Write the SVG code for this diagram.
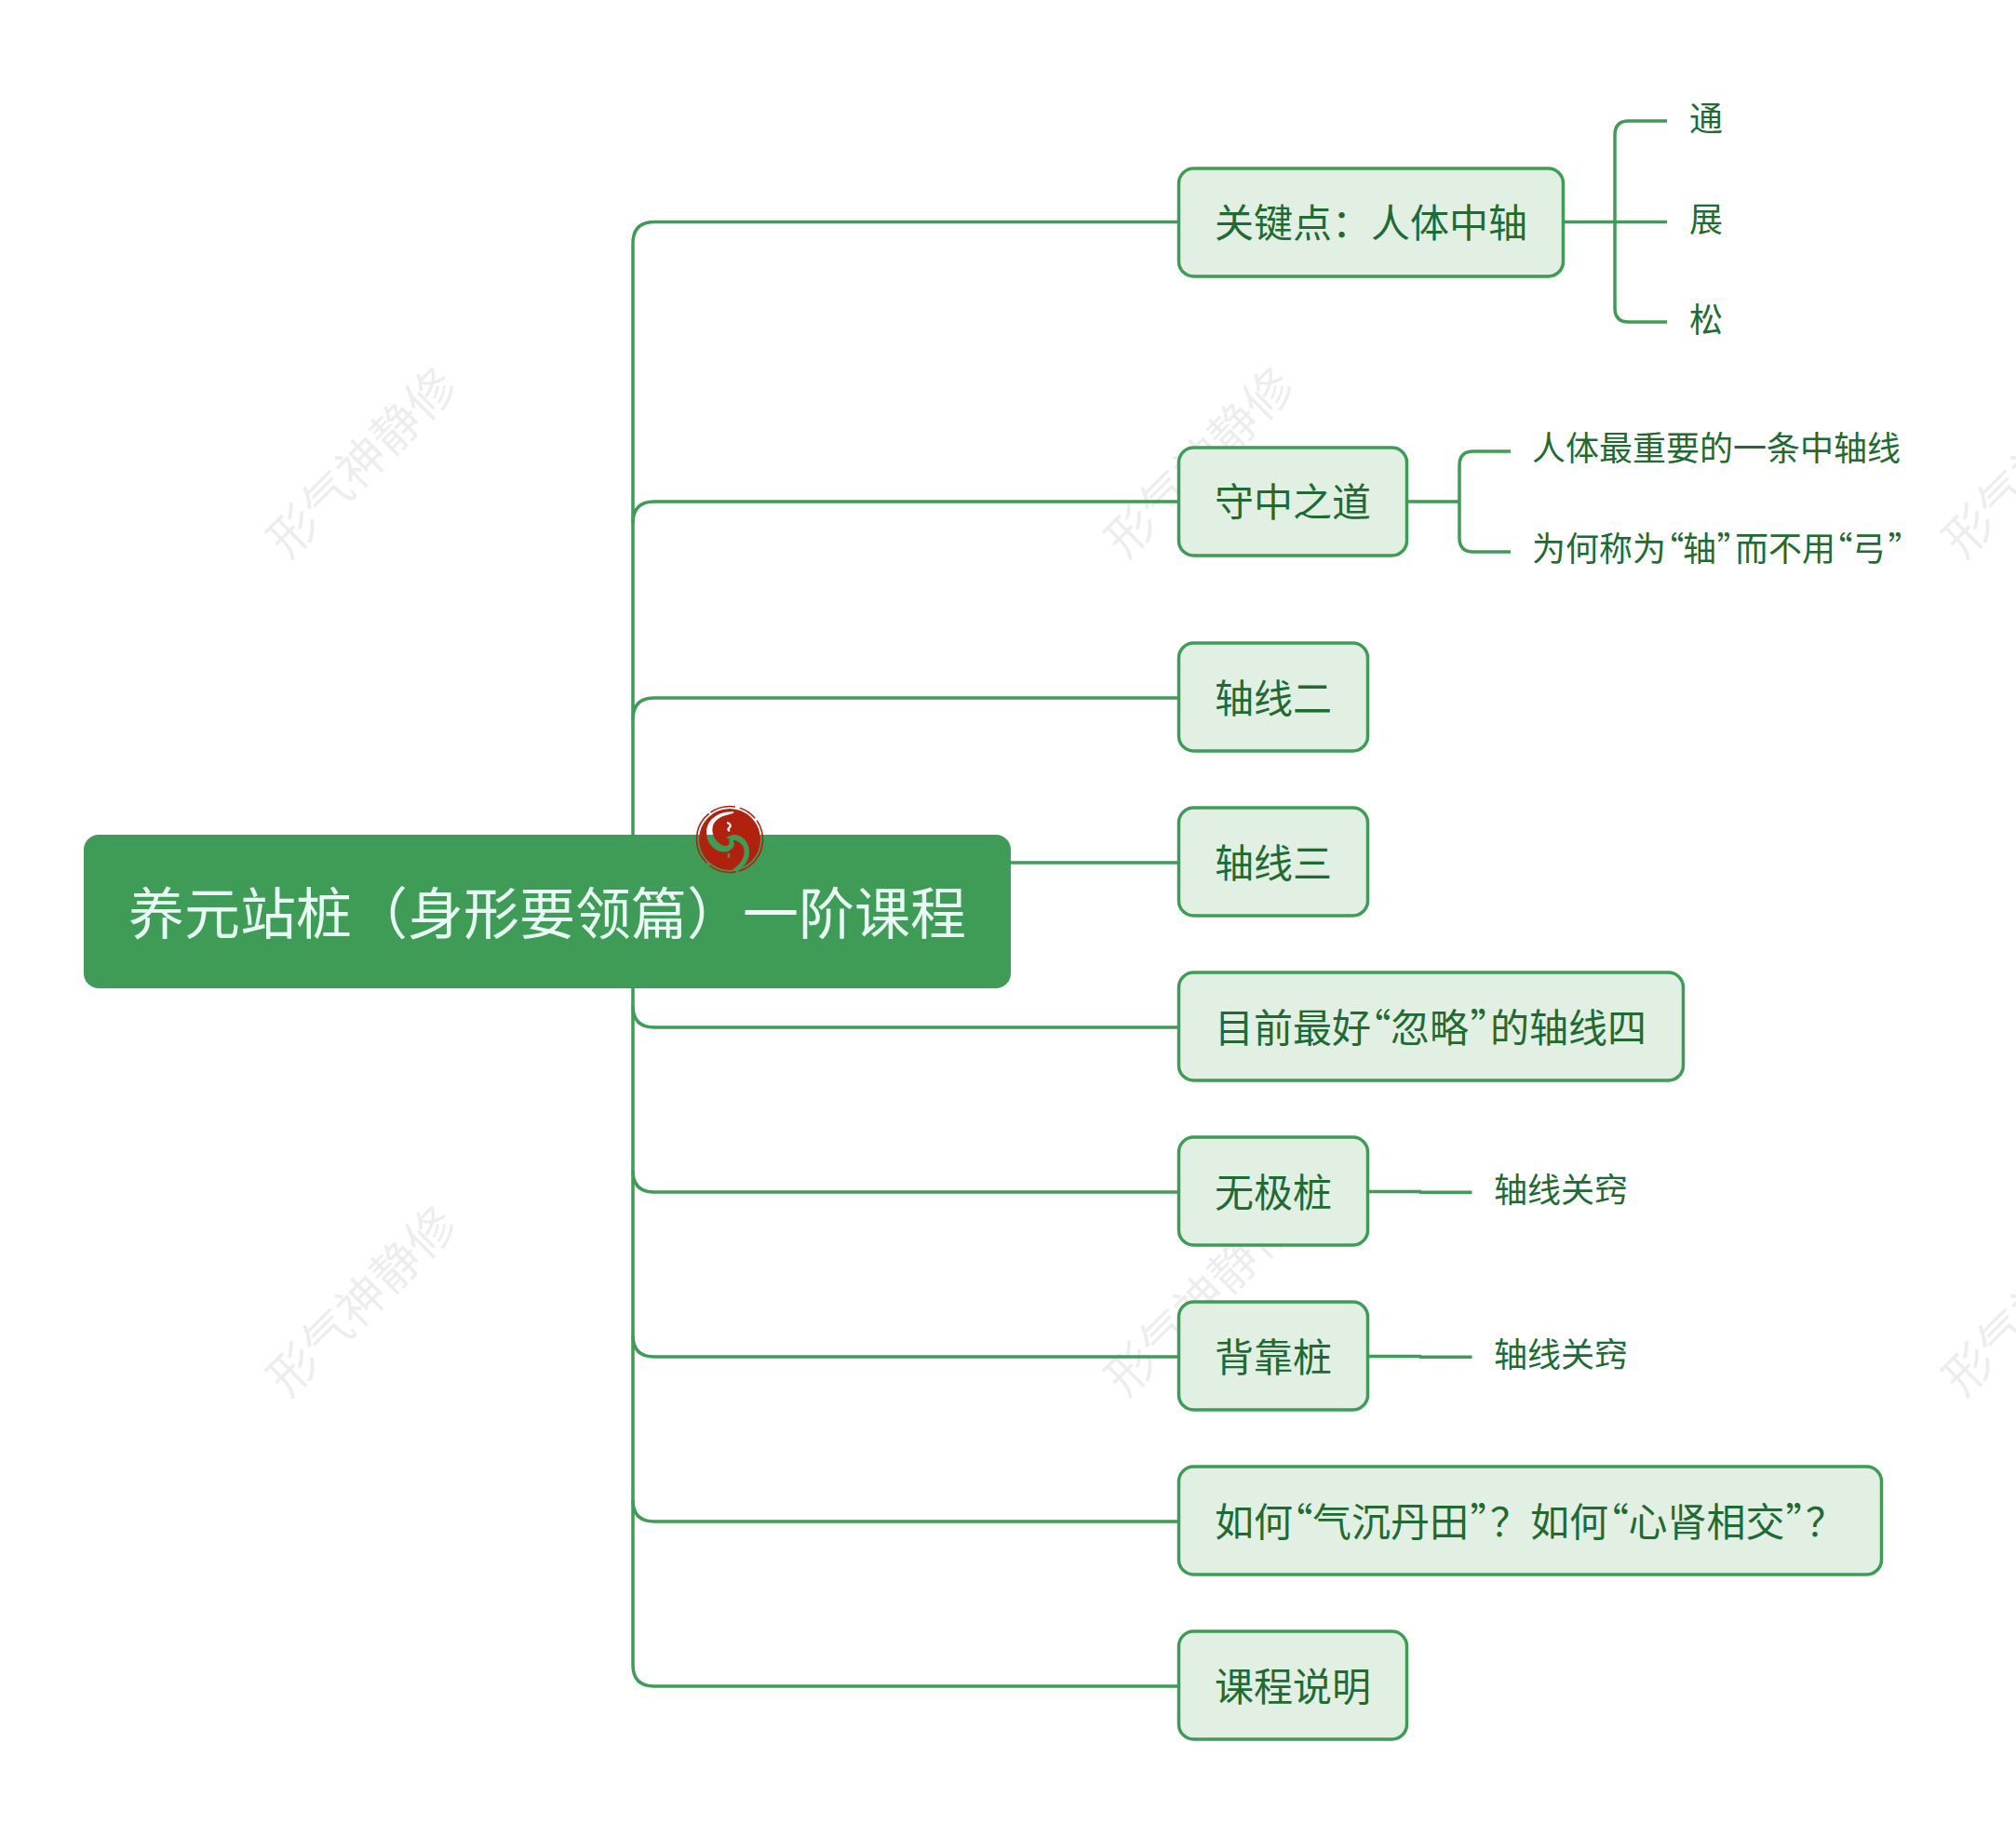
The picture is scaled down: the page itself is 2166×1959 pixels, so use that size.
<svg xmlns="http://www.w3.org/2000/svg" width="2166" height="1959" viewBox="0 0 2166 1959">
<style>
text{font-family:"Noto Sans CJK SC","Noto Sans",sans-serif;fill:#1f6b33}
.c{fill:none;stroke:#3f9c57;stroke-width:3.5}
.b{fill:#e2efe3;stroke:#3f9c57;stroke-width:3.5}
.t{font-size:42px}
.s{font-size:36px}
.p{font-feature-settings:"palt"}
.w{font-size:52px;fill:#000;fill-opacity:.07}
</style>
<defs>
<text id="wm" class="w" text-anchor="middle" transform="rotate(-45)">形气神静修</text>
<mask id="swirl" maskUnits="userSpaceOnUse" x="740" y="855" width="90" height="95">
<rect x="740" y="855" width="90" height="95" fill="#fff"/>
<path d="M788 873C768 872 758 885 760 898C762 911 775 918 784 913C790 909 789 902 782 900C792 894 802 902 804 912C806 925 797 935 783 938C795 931 802 922 800 912C798 904 790 901 784 903C786 908 782 911 776 909C767 905 762 894 766 885C771 877 780 875 788 873Z" fill="#000" stroke="#000" stroke-width="1.5"/>
<path d="M781 884C785 885 786 888 783 890C782 891 782 892 784 893" fill="none" stroke="#000" stroke-width="2.2"/>
<path d="M783 917V922" fill="none" stroke="#000" stroke-width="2.4"/>
</mask>
</defs>
<rect width="2166" height="1959" fill="#fff"/>
<g id="watermarks">
<use href="#wm" transform="translate(402 510)"/>
<use href="#wm" transform="translate(1302 510)"/>
<use href="#wm" transform="translate(2202 510)"/>
<use href="#wm" transform="translate(402 1411)"/>
<use href="#wm" transform="translate(1302 1411)"/>
<use href="#wm" transform="translate(2202 1411)"/>
</g>
<g id="connectors">
<path class="c" d="M1266 238.500H703Q680 238.500 680 261.500V1789Q680 1812 703 1812H1266"/>
<path class="c" d="M1266 539H703Q680 539 680 562"/>
<path class="c" d="M1266 750H703Q680 750 680 773"/>
<path class="c" d="M1086 927H1266"/>
<path class="c" d="M1266 1104H703Q680 1104 680 1081"/>
<path class="c" d="M1266 1281H703Q680 1281 680 1258"/>
<path class="c" d="M1266 1458H703Q680 1458 680 1435"/>
<path class="c" d="M1266 1635H703Q680 1635 680 1612"/>
<path class="c" d="M1680 238.500H1791M1791 130H1750Q1735 130 1735 145V331Q1735 346 1750 346H1791"/>
<path class="c" d="M1512 539H1568M1623 485H1583Q1568 485 1568 500V578Q1568 593 1583 593H1623"/>
<path class="c" d="M1470 1280.600H1527M1525 1281.300H1581.500"/>
<path class="c" d="M1470 1457.600H1527M1525 1458.300H1581.500"/>
</g>
<g id="root"><rect x="90" y="897" width="996" height="165" rx="16" fill="#3f9c57"/>
<text x="138" y="1003.500" font-size="60" style="fill:#e8fbf5">养元站桩（身形要领篇）一阶课程</text></g>
<g id="logo">
<g mask="url(#swirl)"><circle cx="784" cy="902" r="33" fill="#b0220f"/></g>
<circle cx="784" cy="902" r="35.500" fill="none" stroke="#b0220f" stroke-width="1.600" stroke-dasharray="46 3 30 4 60 2 28 5 20 3"/>
</g>
<g id="n1"><rect class="b" x="1266.500" y="181" width="413" height="116" rx="16"/><text class="t" x="1305" y="255">关键点：人体中轴</text></g>
<g id="n1a"><text class="s" x="1815" y="140.500">通</text></g>
<g id="n1b"><text class="s" x="1815" y="249">展</text></g>
<g id="n1c"><text class="s" x="1815" y="356.500">松</text></g>
<g id="n2"><rect class="b" x="1266.500" y="481" width="245" height="116" rx="16"/><text class="t" x="1305" y="555">守中之道</text></g>
<g id="n2a"><text class="s" x="1646" y="495">人体最重要的一条中轴线</text></g>
<g id="n2b"><text class="s" x="1646" y="603">为何称为<tspan class="p" x="1791">“</tspan><tspan x="1808">轴</tspan><tspan class="p" x="1845">”</tspan><tspan x="1864">而不用</tspan><tspan class="p" x="1972">“</tspan><tspan x="1990">弓</tspan><tspan class="p" x="2029">”</tspan></text></g>
<g id="n3"><rect class="b" x="1266.500" y="691" width="203" height="116" rx="16"/><text class="t" x="1305" y="766">轴线二</text></g>
<g id="n4"><rect class="b" x="1266.500" y="868" width="203" height="116" rx="16"/><text class="t" x="1305" y="943">轴线三</text></g>
<g id="n5"><rect class="b" x="1266.500" y="1045" width="542" height="116" rx="16"/><text class="t" x="1305" y="1120">目前最好<tspan class="p" x="1473">“</tspan><tspan x="1494">忽略</tspan><tspan class="p" x="1580">”</tspan><tspan x="1601">的轴线四</tspan></text></g>
<g id="n6"><rect class="b" x="1266.500" y="1222" width="203" height="116" rx="16"/><text class="t" x="1305" y="1297">无极桩</text></g>
<g id="n6a"><text class="s" x="1605" y="1292">轴线关窍</text></g>
<g id="n7"><rect class="b" x="1266.500" y="1399" width="203" height="116" rx="16"/><text class="t" x="1305" y="1474">背靠桩</text></g>
<g id="n7a"><text class="s" x="1605" y="1469">轴线关窍</text></g>
<g id="n8"><rect class="b" x="1266.500" y="1576" width="755" height="116" rx="16"/><text class="t" x="1305" y="1651">如何<tspan class="p" x="1389">“</tspan><tspan x="1410">气沉丹田</tspan><tspan class="p" x="1580">”</tspan><tspan class="p" x="1601">？</tspan><tspan x="1644">如何</tspan><tspan class="p" x="1728.500">“</tspan><tspan x="1749.500">心肾相交</tspan><tspan class="p" x="1919">”</tspan><tspan class="p" x="1940">？</tspan></text></g>
<g id="n9"><rect class="b" x="1266.500" y="1753" width="245" height="116" rx="16"/><text class="t" x="1305" y="1828">课程说明</text></g>
</svg>
